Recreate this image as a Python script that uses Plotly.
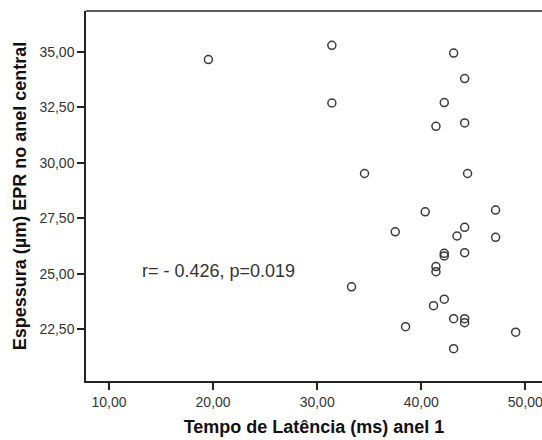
import plotly.graph_objects as go

# Data
latency_ms = [19.55, 31.41, 43.11, 44.17, 31.41, 42.21, 41.41, 44.17, 34.55, 44.45,
              40.38, 47.14, 37.50, 44.17, 43.43, 47.14, 42.21, 42.21, 44.17, 41.41,
              41.41, 33.30, 42.21, 41.18, 38.49, 43.11, 44.17, 44.17, 49.07, 43.11]
thickness_um = [34.66, 35.30, 34.95, 33.80, 32.70, 32.72, 31.65, 31.80, 29.52, 29.52,
                27.79, 27.87, 26.89, 27.09, 26.70, 26.64, 25.92, 25.80, 25.95, 25.32,
                25.09, 24.41, 23.85, 23.56, 22.61, 22.97, 22.97, 22.79, 22.36, 21.62]

x_ticks = [10, 20, 30, 40, 50]
x_tick_labels = ["10,00", "20,00", "30,00", "40,00", "50,00"]
y_ticks = [22.5, 25, 27.5, 30, 32.5, 35]
y_tick_labels = ["22,50", "25,00", "27,50", "30,00", "32,50", "35,00"]

stat_text = "r= - 0.426, p=0.019"
x_title = "Tempo de Latência (ms) anel 1"
y_title = "Espessura (µm) EPR no anel central"

font = "Liberation Sans, Arial, sans-serif"
ink = "#333333"

fig = go.Figure()
fig.add_trace(go.Scatter(
    x=latency_ms, y=thickness_um, mode="markers",
    marker=dict(symbol="circle-open", size=8, color="#3a3a3a",
                line=dict(width=1.5, color="#3a3a3a")),
    showlegend=False, hoverinfo="skip"))

fig.add_annotation(x=12.98, y=25.1, xref="x", yref="y", text=stat_text,
                   showarrow=False, xanchor="left", yanchor="middle",
                   font=dict(family=font, size=18, color=ink))

fig.add_shape(type="line", xref="paper", yref="paper", x0=0, x1=1, y0=1, y1=1,
              line=dict(color="#222222", width=1.5))

fig.update_layout(
    width=542, height=440,
    margin=dict(l=86, r=0, t=11, b=59),
    paper_bgcolor="white", plot_bgcolor="white",
    font=dict(family=font, color=ink),
    xaxis=dict(range=[7.79, 51.6], tickvals=x_ticks, ticktext=x_tick_labels,
               showgrid=False, zeroline=False, showline=True, linecolor="#222222",
               linewidth=1.5, ticks="outside", ticklen=7, tickwidth=1.5,
               tickcolor="#222222", tickfont=dict(family=font, size=14, color=ink),
               ticklabeloverflow="allow",
               title=dict(text="<b>" + x_title + "</b>", standoff=12,
                          font=dict(family=font, size=18, color="#111111")),
               automargin=False),
    yaxis=dict(range=[20.16, 36.85], tickvals=y_ticks, ticktext=y_tick_labels,
               showgrid=False, zeroline=False, showline=True, linecolor="#222222",
               linewidth=1.5, ticks="outside", ticklen=7, tickwidth=1.5,
               tickcolor="#222222", tickfont=dict(family=font, size=14, color=ink),
               title=dict(text="<b>" + y_title + "</b>", standoff=8,
                          font=dict(family=font, size=18, color="#111111")),
               automargin=False),
)

fig.write_html("out.html")
